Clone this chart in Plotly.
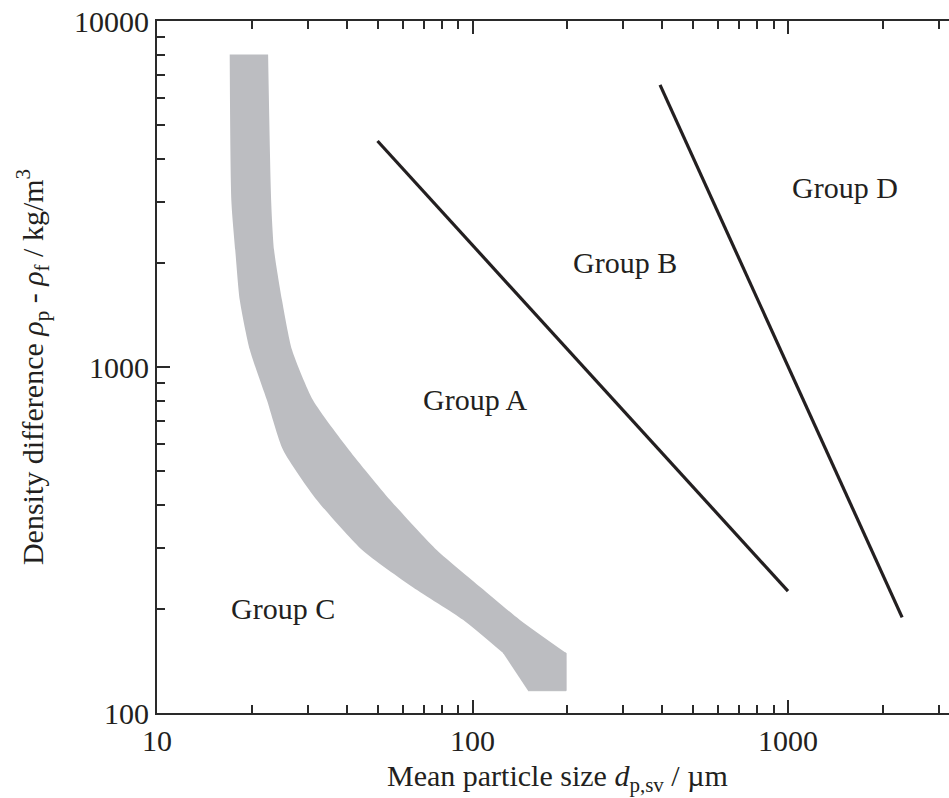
import math
import plotly.graph_objects as go

# Gray Group C / A boundary band
band_y = [8000, 3040, 2180, 1560, 1120, 803, 576, 413, 296, 231, 186, 149]
band_left_x = [17.0, 17.2, 17.7, 18.3, 19.7, 22.3, 25.1, 32.1, 44.7, 64.7, 93.3, 125]
band_right_x = [22.5, 23.0, 23.5, 24.9, 26.8, 31.2, 40.6, 54.8, 77.0, 106, 141, 198]
# bottom cut-off of the band
band_foot_x = [125, 198, 198, 150]
band_foot_y = [149, 149, 116, 116]

# A/B and B/D boundary lines
line_ab_x = [50, 1000]
line_ab_y = [4500, 225]
line_bd_x = [393, 2300]
line_bd_y = [6540, 189]

# Group labels
group_names = ["Group A", "Group B", "Group C", "Group D"]
group_x = [102, 304, 25.1, 1517]
group_y = [803, 2010, 201, 3310]

x_ticks = [10, 100, 1000]
y_ticks = [100, 1000, 10000]
x_minor = [m * d for d in [10, 100, 1000] for m in range(2, 10)]
y_minor = [m * d for d in [100, 1000] for m in range(2, 10)]

x_title = "Mean particle size <i>d</i><sub>p,sv</sub> / µm"
y_title = "Density difference <i>ρ</i><sub>p</sub> - <i>ρ</i><sub>f</sub> / kg/m<sup>3</sup>"

FONT = "Liberation Serif, DejaVu Serif, Times New Roman, serif"
INK = "#231f20"
AX = "#2a2a2a"
BAND = "#bcbdc1"

fig = go.Figure()

fig.add_trace(go.Scatter(x=band_left_x, y=band_y, mode="lines",
                         line=dict(width=0, color=BAND, shape="spline", smoothing=0.6),
                         hoverinfo="skip", showlegend=False))
fig.add_trace(go.Scatter(x=band_right_x, y=band_y, mode="lines", fill="tonextx",
                         fillcolor=BAND,
                         line=dict(width=0, color=BAND, shape="spline", smoothing=0.6),
                         hoverinfo="skip", showlegend=False))
fig.add_trace(go.Scatter(x=band_foot_x, y=band_foot_y, mode="lines", fill="toself",
                         fillcolor=BAND, line=dict(width=1, color=BAND),
                         hoverinfo="skip", showlegend=False))

for lx, ly in [(line_ab_x, line_ab_y), (line_bd_x, line_bd_y)]:
    fig.add_trace(go.Scatter(x=lx, y=ly, mode="lines",
                             line=dict(color=INK, width=3.2), showlegend=False))

for name, gx, gy in zip(group_names, group_x, group_y):
    fig.add_annotation(x=math.log10(gx), y=math.log10(gy), xref="x", yref="y",
                       text=name, showarrow=False,
                       font=dict(family=FONT, size=30, color=INK))

# x-axis title placed just below the tick labels
fig.add_annotation(x=0.506, y=-0.094, xref="paper", yref="paper",
                   xanchor="center", yanchor="middle", text=x_title, showarrow=False,
                   font=dict(family=FONT, size=30, color=INK))

fig.update_layout(
    width=949, height=798,
    margin=dict(l=157, r=0, t=21, b=85),
    paper_bgcolor="white", plot_bgcolor="white",
    font=dict(family=FONT, size=30, color=INK),
    showlegend=False,
    xaxis=dict(
        type="log", range=[1, 1 + 792 / 315.5],
        tickmode="array", tickvals=x_ticks, ticktext=[str(v) for v in x_ticks],
        ticks="inside", ticklen=13, tickwidth=1.5, tickcolor=AX,
        showline=True, linecolor=AX, linewidth=1.8, mirror="allticks",
        showgrid=False, zeroline=False,
        tickfont=dict(family=FONT, size=30, color=INK),
        minor=dict(tickmode="array", tickvals=x_minor, ticks="inside", ticklen=8,
                   tickwidth=1.5, tickcolor=AX, showgrid=False),
    ),
    yaxis=dict(
        type="log", range=[2, 4],
        tickmode="array", tickvals=y_ticks, ticktext=[str(v) for v in y_ticks],
        ticks="inside", ticklen=13, tickwidth=1.5, tickcolor=AX,
        showline=True, linecolor=AX, linewidth=1.8, mirror=False,
        showgrid=False, zeroline=False,
        tickfont=dict(family=FONT, size=30, color=INK),
        minor=dict(tickmode="array", tickvals=y_minor, ticks="inside", ticklen=8,
                   tickwidth=1.5, tickcolor=AX, showgrid=False),
        title=dict(text=y_title, font=dict(family=FONT, size=30, color=INK), standoff=22),
    ),
)

fig.write_html("out.html")
